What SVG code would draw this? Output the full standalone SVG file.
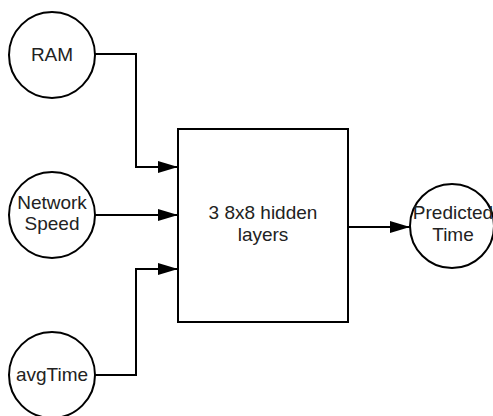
<svg xmlns="http://www.w3.org/2000/svg" width="493" height="416" viewBox="0 0 493 416">
<defs>
<marker id="arr" markerWidth="20" markerHeight="12" refX="20" refY="6" orient="auto" markerUnits="userSpaceOnUse">
<path d="M0,0 L20,6 L0,12 Z" fill="#000"/>
</marker>
<style>
.n{fill:#fff;stroke:#000;stroke-width:2}
.t{font-family:"Liberation Sans",Arial,sans-serif;font-size:19px;fill:#222;text-anchor:middle}
.c{fill:none;stroke:#000;stroke-width:2}
</style>
</defs>
<rect width="493" height="416" fill="#fff"/>
<g id="connectors">
<path class="c" d="M95,54 H136 V167 H178" marker-end="url(#arr)"/>
<path class="c" d="M95,215 H178" marker-end="url(#arr)"/>
<path class="c" d="M95,375 H136 V269 H178" marker-end="url(#arr)"/>
<path class="c" d="M348,227 H410" marker-end="url(#arr)"/>
</g>
<g id="ram">
<circle class="n" cx="52" cy="55" r="43"/>
<text class="t" x="52" y="61">RAM</text>
</g>
<g id="network-speed">
<circle class="n" cx="52" cy="215" r="43"/>
<text class="t" x="52" y="209">Network</text>
<text class="t" x="52" y="230">Speed</text>
</g>
<g id="avgtime">
<circle class="n" cx="52" cy="375" r="43"/>
<text class="t" x="52" y="381">avgTime</text>
</g>
<g id="hidden">
<rect class="n" x="178" y="129" width="170" height="193"/>
<text class="t" x="263" y="219">3 8x8 hidden</text>
<text class="t" x="263" y="241">layers</text>
</g>
<g id="predicted">
<circle class="n" cx="452" cy="226" r="42"/>
<text class="t" x="453" y="219">Predicted</text>
<text class="t" x="453" y="241">Time</text>
</g>
</svg>
